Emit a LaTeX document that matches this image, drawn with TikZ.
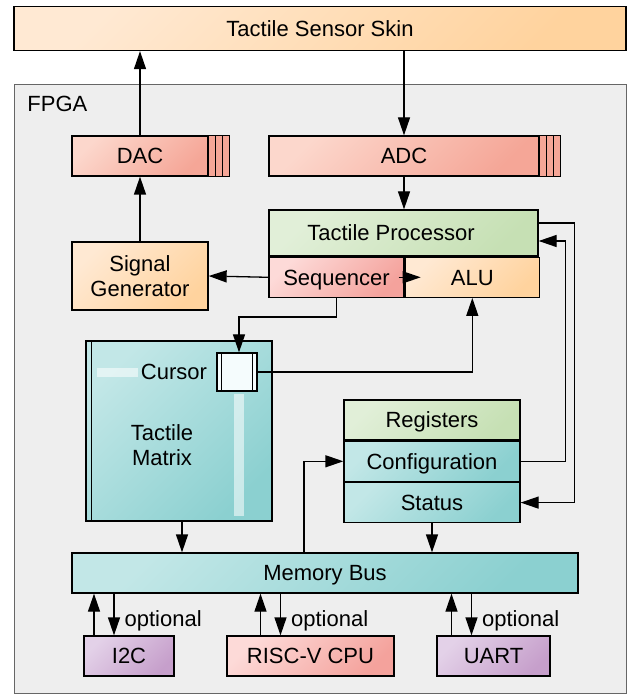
\documentclass[tikz,border=0pt]{standalone}
\usepackage{fontspec}
\setmainfont{Liberation Sans}
\usetikzlibrary{positioning,arrows.meta,calc}
\definecolor{chip}{HTML}{EEEEEE}
\definecolor{chipline}{HTML}{666666}
\definecolor{peachlt}{HTML}{FFE9D3}
\definecolor{peachdk}{HTML}{FFD39E}
\definecolor{salmonlt}{HTML}{FCD7CC}
\definecolor{salmondk}{HTML}{F5A697}
\definecolor{pinklt}{HTML}{FDDAD8}
\definecolor{pinkdk}{HTML}{F4A29C}
\definecolor{greenlt}{HTML}{E1EFD8}
\definecolor{greendk}{HTML}{C6E0B4}
\definecolor{tealt}{HTML}{C2E7E7}
\definecolor{tealdk}{HTML}{8BD0D0}
\definecolor{lilaclt}{HTML}{E3D1E8}
\definecolor{lilacdk}{HTML}{C69FCB}
\definecolor{cursorfill}{HTML}{F5FCFD}

\begin{document}
\begin{tikzpicture}[
    x=0.5pt, y=-0.5pt, font=\fontsize{11}{12.5}\selectfont,
    box/.style={rectangle, draw=black, line width=0.65pt, inner sep=0pt, align=center, text height=7.9pt, text depth=0pt},
    grad/.style 2 args={left color=#1, right color=#2, shading angle=45},
    arrow/.style={-{Triangle[length=9pt,width=6pt]}, line width=0.65pt}
]
    \useasboundingbox (0,0) rectangle (630,694);

    % Sensor skin outside the chip
    \node[box, grad={peachlt}{peachdk}, minimum width=306pt, minimum height=22pt] (skin) at (320,28.5) {Tactile Sensor Skin};

    % FPGA frame
    \node[box, draw=chipline, line width=0.5pt, fill=chip, minimum width=306pt, minimum height=304.5pt, anchor=north west] (fpga) at (14,84) {};
    \node[anchor=west, inner sep=0pt] (fpgalabel) at (27,104) {FPGA};

    % Converters (with FIFO stripes)
    \node[box, grad={salmonlt}{salmondk}, minimum width=68pt, minimum height=20pt] (dac) at (140,156) {DAC};
    \node[box, grad={salmonlt}{salmondk}, minimum width=135pt, minimum height=20pt] (adc) at (404,156) {ADC};
    \foreach \conv in {dac,adc}
        \foreach \i in {0,1,2}
            \draw[line width=0.65pt, fill=salmondk] ([xshift={\i*3.5pt}]\conv.north east) rectangle ([xshift={(\i+1)*3.5pt}]\conv.south east);

    % Processor
    \node[box, grad={greenlt}{greendk}, minimum width=134.5pt, minimum height=23pt] (tp) at (403.5,233) {Tactile Processor\hspace*{12.5pt}};
    \node[box, grad={pinklt}{pinkdk}, minimum width=67.5pt, minimum height=20pt, anchor=north west] (seq) at (tp.south west) {Sequencer};
    \node[box, grad={peachlt}{peachdk}, minimum width=67pt, minimum height=20pt, anchor=west] (alu) at (seq.east) {ALU};
    \node[box, grad={peachlt}{peachdk}, minimum width=68pt, minimum height=34pt, text height=, text depth=] (siggen) at (140,276) {Signal\\Generator};

    % Tactile matrix with cursor
    \node[box, grad={tealt}{tealdk}, minimum width=93pt, minimum height=90pt] (mtx) at (179,431) {};
    \draw[line width=0.65pt] ([xshift=3pt]mtx.north west) -- ([xshift=3pt]mtx.south west);
    \fill[white, opacity=0.55] (97,368) rectangle (138,377);
    \fill[white, opacity=0.55] (234,394) rectangle (244,516);
    \node[align=center, inner sep=0pt] (mtxlabel) at (162,445) {Tactile\\Matrix};
    \node[box, fill=cursorfill, minimum width=20pt, minimum height=19pt] (cursor) at (237,372) {};
    \draw[line width=0.4pt] ([xshift=2.5pt]cursor.north west) -- ([xshift=2.5pt]cursor.south west)
                            ([xshift=-2.5pt]cursor.north east) -- ([xshift=-2.5pt]cursor.south east);
    \node[left=4.5pt of cursor, inner sep=0pt] (cursorlabel) {Cursor};

    % Register file
    \node[box, grad={greenlt}{greendk}, minimum width=88pt, minimum height=20pt] (regs) at (432,420) {Registers};
    \node[box, grad={tealt}{tealdk}, minimum width=88pt, minimum height=20pt, below=0pt of regs] (config) {Configuration};
    \node[box, grad={tealt}{tealdk}, minimum width=88pt, minimum height=20pt, below=0pt of config] (status) {Status};

    % Bus and peripherals
    \node[box, grad={tealt}{tealdk}, minimum width=253pt, minimum height=20pt] (bus) at (325,573) {Memory Bus};
    \node[box, grad={lilaclt}{lilacdk}, minimum width=45pt, minimum height=20pt] (i2c) at (129,656) {I2C};
    \node[box, grad={pinklt}{pinkdk}, minimum width=83.5pt, minimum height=20pt] (cpu) at (310.5,656) {RISC-V CPU};
    \node[box, grad={lilaclt}{lilacdk}, minimum width=56.5pt, minimum height=20pt] (uart) at (493.5,656) {UART};

    % Signal path
    \draw[arrow] (dac) -- (dac |- skin.south);
    \draw[arrow] (adc |- skin.south) -- (adc.north);
    \draw[arrow] (adc) -- (adc |- tp.north);
    \draw[arrow] (siggen) -- (dac);
    \draw[arrow] (seq.west) -- (siggen.east);
    \draw[arrow] ([xshift=-3pt]seq.east) -- ([xshift=8pt]alu.west);
    \draw[arrow] (seq.south) -- ++(0,19) -| ([xshift=1pt]cursor.north);
    \draw[arrow] (cursor.east) -| (alu.south);

    % Register links
    \draw[arrow] (config.east) -- ++(45,0) |- ([yshift=-4pt]tp.east);
    \draw[arrow] ([yshift=5pt]tp.east) -- ++(36,0) |- (status.east);
    \draw[arrow] ([xshift=-10.5pt]bus.north) |- (config.west);
    \draw[arrow] (status) -- (status |- bus.north);
    \draw[arrow] ([xshift=1.5pt]mtx.south) -- ([xshift=1.5pt]mtx.south |- bus.north);

    % Peripheral links
    \foreach \dev/\dx in {i2c/-17.5pt, cpu/-25pt, uart/-21pt} {
        \draw[arrow] ([xshift=\dx]\dev.north) -- ([xshift=\dx]\dev.north |- bus.south);
        \draw[arrow] ([xshift=\dx+10pt]\dev.north |- bus.south) -- node[right=5pt, pos=0.65, inner sep=0pt] {optional} ([xshift=\dx+10pt]\dev.north);
    }
\end{tikzpicture}
\end{document}
